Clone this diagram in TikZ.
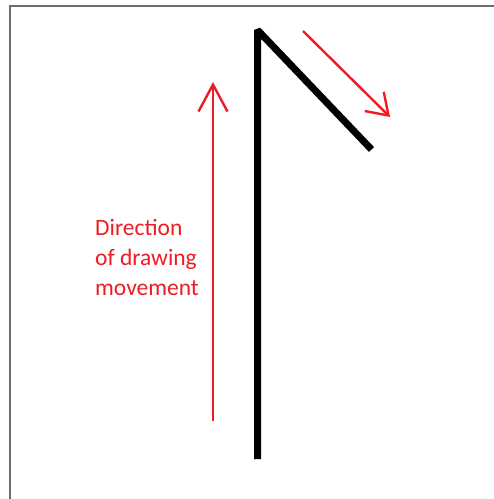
\documentclass[tikz,border=0pt]{standalone}
\usepackage{fontspec}
\setmainfont{Carlito}
\usepackage{tikz}
\usetikzlibrary{arrows.meta,positioning}
\definecolor{paintred}{RGB}{237,28,36}
\definecolor{framegray}{RGB}{110,110,110}

\begin{document}
\begin{tikzpicture}[x=1pt,y=-1pt,
    redarrow/.style={paintred,line width=2.4pt},
    stroke/.style={black,line width=7pt,line join=bevel}]
        \useasboundingbox (0,0) rectangle (494,499);
        \draw[framegray,line width=1.5pt] (494,5.8)--(9.8,5.8)--(9.8,499);
        \coordinate (base) at (257.5,459);
        \coordinate (corner) at (257.5,30);
        \coordinate (end) at (371.5,149.5);
        \draw[stroke] (base)--(corner)--(end);
        \coordinate (up1) at (213,421);
        \coordinate (up2) at (213,82);
        \draw[redarrow,-{Straight Barb[length=27pt,width=29pt]}] (up1)--(up2);
        \coordinate (dg1) at (303,31);
        \coordinate (dg2) at (390,117);
        \draw[redarrow,-{Straight Barb[length=20pt,width=27pt]}] (dg1)--(dg2);
        \node[paintred,anchor=north west,inner sep=0pt,align=left,
          font=\fontsize{23.5}{30}\selectfont] (label) at (95,219.5)
          {Direction\\of drawing\\movement};
      \end{tikzpicture}
\end{document}
